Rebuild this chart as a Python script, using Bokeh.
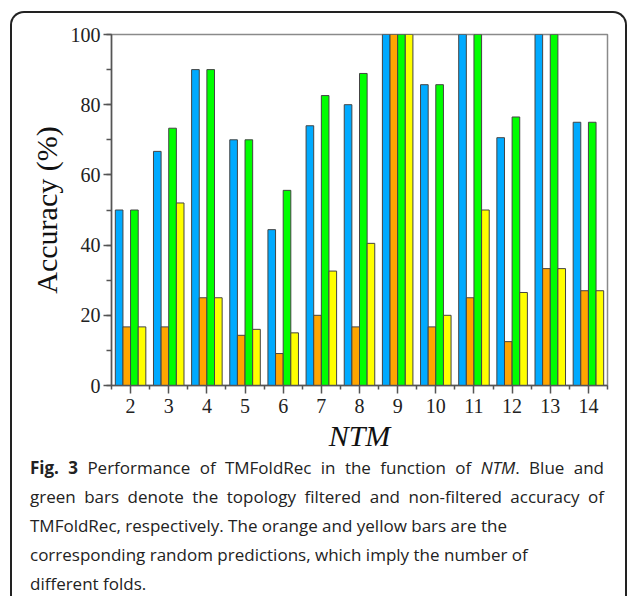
from bokeh.plotting import figure
from bokeh.layouts import column
from bokeh.models import Range1d, FixedTicker, ColumnDataSource, Div, InlineStyleSheet
from bokeh.transform import dodge
from bokeh.embed import file_html
from bokeh.resources import INLINE

ntm = [2, 3, 4, 5, 6, 7, 8, 9, 10, 11, 12, 13, 14]
blue_filtered = [50, 66.7, 90, 70, 44.4, 74, 80, 100, 85.7, 100, 70.6, 100, 75]
orange_random = [16.7, 16.7, 25, 14.3, 9.1, 20, 16.7, 100, 16.7, 25, 12.5, 33.3, 27]
green_nonfiltered = [50, 73.3, 90, 70, 55.6, 82.6, 88.9, 100, 85.7, 100, 76.5, 100, 75]
yellow_random = [16.7, 52, 25, 16, 15, 32.6, 40.5, 100, 20, 50, 26.5, 33.3, 27]
y_ticks = [0, 20, 40, 60, 80, 100]

src = ColumnDataSource(dict(ntm=ntm, blue=blue_filtered, orange=orange_random,
                            green=green_nonfiltered, yellow=yellow_random))

W, HF, HC = 629, 460, 136
FL, FR, FT, FB = 111, 607, 34, 385   # frame edges in page pixels

p = figure(width=W, height=HF, x_range=Range1d(1.5, 14.5), y_range=Range1d(0, 100),
           output_backend="svg", toolbar_location=None,
           min_border_left=FL, min_border_right=W - FR, min_border_top=FT,
           min_border_bottom=HF - FB,
           outline_line_color="#8a8a8a", outline_line_width=1.5)

bw = 0.2
for col, off, color in [("blue", -0.3, "#00aaff"), ("orange", -0.1, "#ffa500"),
                        ("green", 0.1, "#00ff00"), ("yellow", 0.3, "#ffff00")]:
    p.vbar(x=dodge("ntm", off, range=p.x_range), top=col, width=bw, bottom=0, source=src,
           fill_color=color, line_color="#444444", line_width=1)

p.xgrid.visible = False
p.ygrid.visible = False

p.xaxis.ticker = FixedTicker(ticks=ntm, minor_ticks=[1.5 + i for i in range(14)])
p.yaxis.ticker = FixedTicker(ticks=y_ticks, minor_ticks=list(range(0, 101, 10)))

for ax in (p.xaxis[0], p.yaxis[0]):
    ax.axis_line_color = "#555555"
    ax.axis_line_width = 1.5
    ax.major_tick_line_color = "#555555"
    ax.minor_tick_line_color = "#555555"
    ax.major_tick_line_width = 1.5
    ax.minor_tick_line_width = 1.5
    ax.major_tick_in = 0
    ax.minor_tick_in = 0
    ax.major_label_text_font = "Liberation Serif"
    ax.major_label_text_font_size = "20px"
    ax.major_label_text_color = "#222222"
    ax.axis_label_text_font = "Liberation Serif"
    ax.axis_label_text_font_size = "30px"
    ax.axis_label_text_color = "#111111"

p.xaxis.major_tick_out = 8
p.xaxis.minor_tick_out = 4
p.yaxis.major_tick_out = 8
p.yaxis.minor_tick_out = 5
p.xaxis.major_label_standoff = 5
p.yaxis.major_label_standoff = 3
p.xaxis.axis_label = "NTM"
p.xaxis.axis_label_text_font_style = "italic"
p.xaxis.axis_label_standoff = 3
p.yaxis.axis_label = "Accuracy (%)"
p.yaxis.axis_label_text_font_style = "normal"
p.yaxis.axis_label_standoff = 5

just = 'width:574px;text-align:justify;text-align-last:justify;'
plain = 'width:574px;white-space:nowrap;'
caption_html = (
    '<div style="font-family:\'Open Sans\';font-size:17px;line-height:29px;color:#222222;'
    'padding-left:25px;position:relative;top:-12px;">'
    f'<div style="{just}"><b>Fig. 3</b> Performance of TMFoldRec in the function of '
    '<i>NTM</i>. Blue and</div>'
    f'<div style="{just}">green bars denote the topology filtered and non-filtered accuracy of</div>'
    f'<div style="{plain}">TMFoldRec, respectively. The orange and yellow bars are the</div>'
    f'<div style="{plain}">corresponding random predictions, which imply the number of</div>'
    f'<div style="{plain}">different folds.</div>'
    '</div>'
)
cap = Div(text=caption_html, width=W, height=HC)

panel_css = InlineStyleSheet(css="""
:host { position: relative; }
:host::after {
  content: "";
  position: absolute;
  left: 10px; top: 11px;
  width: 617px; height: 585px;
  box-sizing: border-box;
  border: 2px solid #222222;
  border-bottom: none;
  border-radius: 14px 14px 0 0;
  pointer-events: none;
  z-index: 10;
}
""")

layout = column(p, cap, stylesheets=[panel_css])

open("out.html", "w").write(file_html(layout, INLINE))
